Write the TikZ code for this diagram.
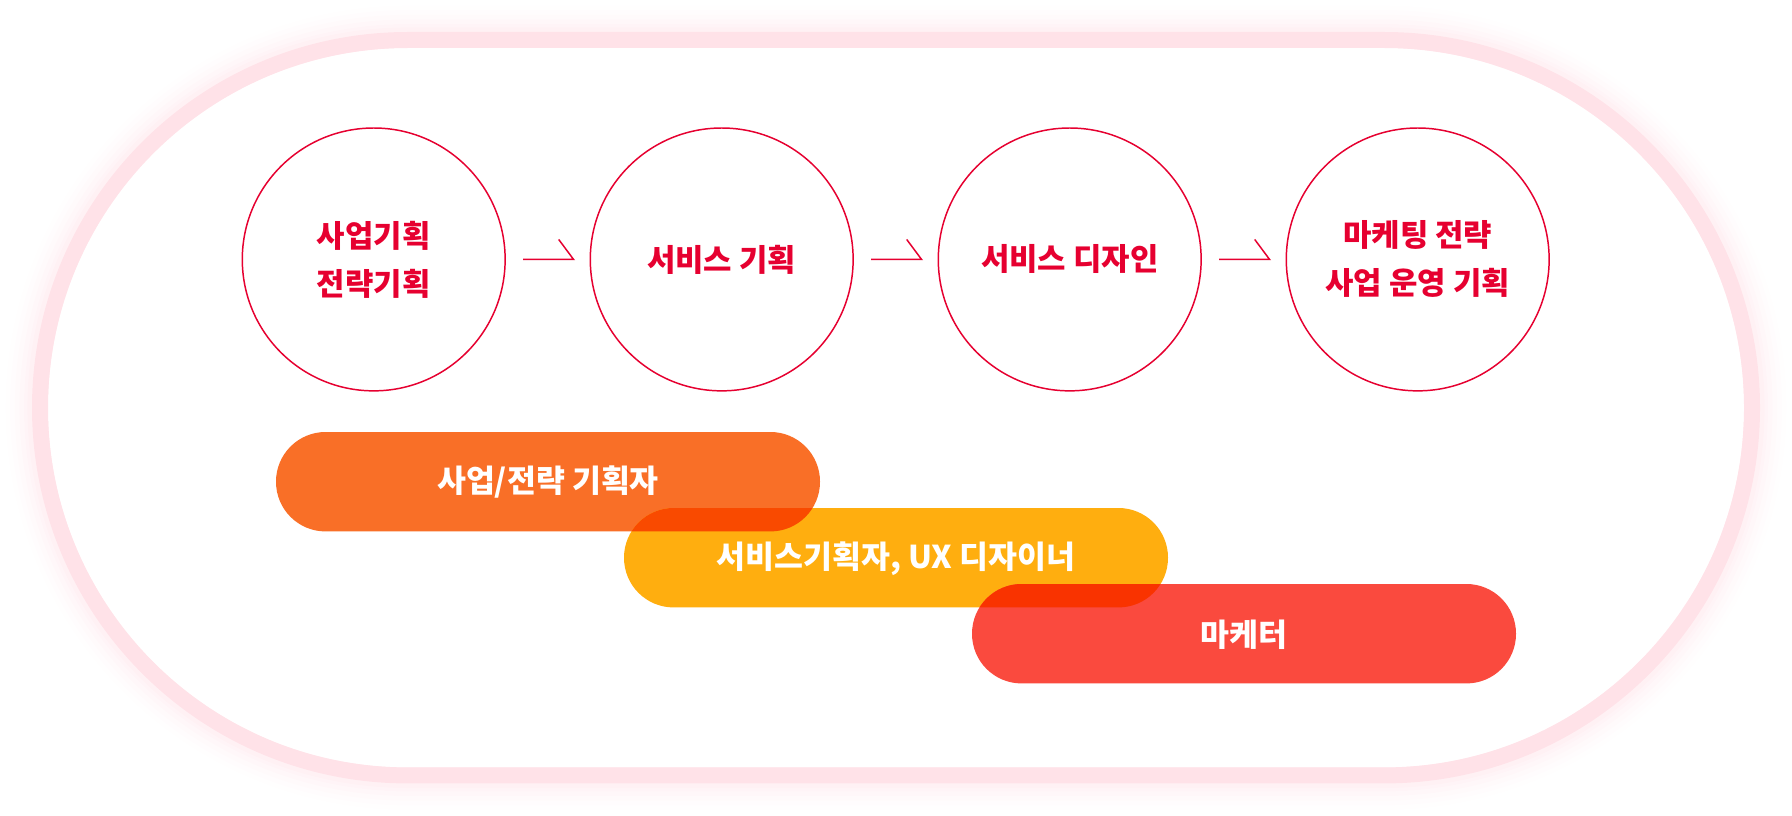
\documentclass[tikz,border=0pt]{standalone}
\usepackage{fontspec}
\setmainfont{Noto Sans CJK KR}
\definecolor{crim}{HTML}{E60030}
\definecolor{ringpink}{HTML}{FFE2E8}
\definecolor{barorange}{HTML}{F96F27}
\definecolor{baryellow}{HTML}{FFAE0F}
\definecolor{barred}{HTML}{FA4A3E}
\definecolor{ovA}{HTML}{F94A00}
\definecolor{ovB}{HTML}{F93300}
\begin{document}
\begin{tikzpicture}[x=1pt,y=-1pt,
  stage/.style={circle, draw=crim, line width=1.3pt, minimum size=230pt, inner sep=0pt,
    text=crim, font=\bfseries\fontsize{27}{42}\selectfont, align=center},
  bartext/.style={text=white, font=\bfseries\fontsize{27.5}{30}\selectfont, inner sep=0pt},
  conn/.style={draw=crim, line width=1.3pt, line join=miter},
  ring/.style={rounded corners=321.75pt}]
\useasboundingbox (0,0) rectangle (1568,714);
% glow
\foreach \w/\o in {60/0.05,52/0.06,44/0.08,36/0.1,28/0.14,22/0.2}
  \draw[ring, line width=\w pt, ringpink, opacity=\o] (35,35) rectangle (1533,678.5);
\fill[white, rounded corners=314.75pt] (42,42) rectangle (1526,671.5);
\draw[ring, line width=14pt, ringpink] (35,35) rectangle (1533,678.5);
% stage circles
\node[stage] (c1) at (327,227) {사업기획\\전략기획};
\node[stage] (c2) at (631.5,227) {서비스 기획};
\node[stage] (c3) at (936,227) {서비스 디자인};
\node[stage] (c4) at (1240.5,227) {마케팅 전략\\사업 운영 기획};
% connectors
\draw[conn] ([xshift=15pt]c1.east) -- ([xshift=-14pt]c2.west) -- ++(-13,-17.5);
\draw[conn] ([xshift=15pt]c2.east) -- ([xshift=-14pt]c3.west) -- ++(-13,-17.5);
\draw[conn] ([xshift=15pt]c3.east) -- ([xshift=-14pt]c4.west) -- ++(-13,-17.5);
% bars
\fill[barorange, rounded corners=43.4pt] (241.5,378) rectangle (717.5,465);
\fill[baryellow, rounded corners=43.4pt] (546,444.5) rectangle (1022,531.5);
\fill[barred, rounded corners=43.4pt] (850.5,511) rectangle (1326.5,598);
\begin{scope}
  \clip[rounded corners=43.4pt] (241.5,378) rectangle (717.5,465);
  \fill[ovA, rounded corners=43.4pt] (546,444.5) rectangle (1022,531.5);
\end{scope}
\begin{scope}
  \clip[rounded corners=43.4pt] (546,444.5) rectangle (1022,531.5);
  \fill[ovB, rounded corners=43.4pt] (850.5,511) rectangle (1326.5,598);
\end{scope}
\node[bartext] (b1) at (479.5,422) {사업/전략 기획자};
\node[bartext] (b2) at (784,488.5) {서비스기획자, UX 디자이너};
\node[bartext] (b3) at (1088.5,555) {마케터};
\end{tikzpicture}
\end{document}
